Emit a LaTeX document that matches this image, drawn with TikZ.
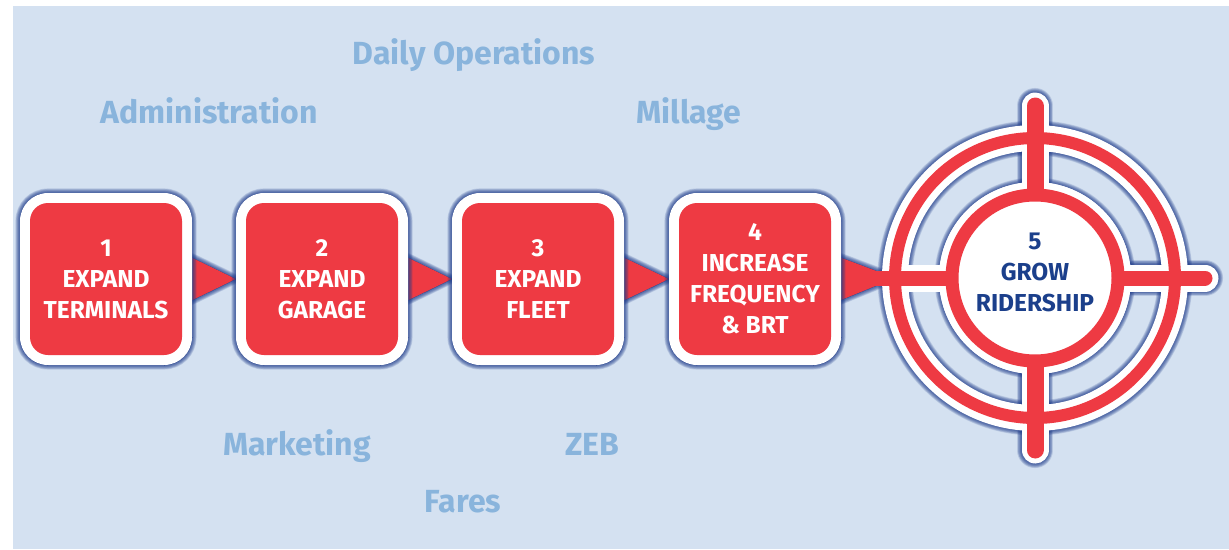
\documentclass[tikz,border=0pt]{standalone}
\usepackage{fontspec}
\setmainfont{Fira Sans}
\usetikzlibrary{calc}

\definecolor{bgblue}{HTML}{D4E1F1}
\definecolor{tagblue}{HTML}{89B4DC}
\definecolor{stepred}{HTML}{EE3A43}
\definecolor{navy}{HTML}{1B3F8B}
\definecolor{shade}{HTML}{1D3A8A}

\pgfdeclarelayer{bgfill}
\pgfdeclarelayer{trishadow}
\pgfdeclarelayer{tri}
\pgfdeclarelayer{objshadow}
\pgfsetlayers{bgfill,trishadow,tri,objshadow,main}

% soft drop shadow: the same shapes stacked, each copy wider and pushed
% further to the lower right, so the upper left edge stays hidden
\newcommand\softshadow[1]{%
  \foreach \k in {0,...,7}{%
    \pgfmathsetlengthmacro\ew{1.3pt*\k}%
    \begin{scope}[shift={({4pt+0.5*\ew},{-5pt-0.5*\ew})}, opacity=0.16]
      #1
    \end{scope}
  }%
}

\tikzset{
  tag/.style={text=tagblue, font=\fontsize{32}{32}\selectfont\bfseries, anchor=base, inner sep=0pt},
  boxframe/.style={fill=white, rounded corners=28pt,
    minimum width=172pt, minimum height=172pt, inner sep=0pt},
  boxcore/.style={fill=stepred, rounded corners=18pt, minimum width=152pt, minimum height=152pt,
    inner sep=0pt, text=white, align=center, font=\fontsize{24.5}{31}\selectfont\bfseries},
  pointer/.style={fill=stepred},
  shadefill/.style={fill=shade, line join=round},
  goalwhite/.style={draw=white},
  goalred/.style={draw=stepred},
}

\begin{document}
\begin{tikzpicture}[x=1pt, y=-1pt]
\useasboundingbox (0,0) rectangle (1229,549);
\begin{pgfonlayer}{bgfill}
  \fill[white] (0,0) rectangle (1229,549);
  \fill[bgblue] (13,6) rectangle (1229,549);
\end{pgfonlayer}

% step boxes
\foreach \i/\x/\txt in {1/106/{1\\EXPAND\\TERMINALS}, 2/322/{2\\EXPAND\\GARAGE},
                        3/538/{3\\EXPAND\\FLEET}, 4/755/{4\\INCREASE\\FREQUENCY\\\& BRT}}{
  \node[boxframe] (b\i) at (\x,279) {};
  \node[boxcore] (r\i) at (b\i.center) {\txt};
}

% target: white backing, then red rings and cross
\node[circle, fill=white, minimum size=192pt, inner sep=0pt] (goal) at (1035,278) {};
\coordinate (tip) at ($(goal.center)+(-140,0)$);
\draw[goalwhite, line width=26pt] (goal.center) circle (140);
\draw[goalwhite, line width=27pt, line cap=round]
  ($(goal.center)+(0,-172)$) -- ($(goal.center)+(0,172)$);
\draw[goalwhite, line width=27pt, line cap=round]
  ($(goal.center)+(-135,0)$) -- ($(goal.center)+(170,0)$);
\fill[white] (goal.center) circle (96);
\draw[goalred, line width=12pt] (goal.center) circle (140);
\draw[goalred, line width=17pt, line cap=round]
  ($(goal.center)+(0,-172)$) -- ($(goal.center)+(0,172)$);
\draw[goalred, line width=15pt, line cap=round]
  ($(goal.center)+(-165,0)$) -- ($(goal.center)+(170,0)$);
\fill[white] (goal.center) circle (78);
\draw[goalred, line width=13pt] (goal.center) circle (83);
\node[text=navy, align=center, font=\fontsize{24.5}{31}\selectfont\bfseries, inner sep=0pt]
  (goaltext) at ($(goal.center)+(0,-6)$) {5\\GROW\\RIDERSHIP};

% pointers between the steps
\begin{pgfonlayer}{tri}
  \foreach \a/\b in {b1/b2, b2/b3, b3/b4}{
    \fill[pointer] ([xshift=-10pt,yshift=26pt]\a.east) -- (\b.west)
      -- ([xshift=-10pt,yshift=-26pt]\a.east) -- cycle;
  }
  \fill[pointer] ([xshift=-10pt,yshift=25pt]b4.east) -- (tip)
    -- ([xshift=-10pt,yshift=-25pt]b4.east) -- cycle;
\end{pgfonlayer}

\begin{pgfonlayer}{trishadow}
  \softshadow{%
    \foreach \a/\b in {b1/b2, b2/b3, b3/b4}{
      \filldraw[shadefill, draw=shade, line width=\ew] ([xshift=-10pt,yshift=26pt]\a.east) -- (\b.west)
        -- ([xshift=-10pt,yshift=-26pt]\a.east) -- cycle;
    }
    \filldraw[shadefill, draw=shade, line width=\ew] ([xshift=-10pt,yshift=25pt]b4.east) -- (tip)
      -- ([xshift=-10pt,yshift=-25pt]b4.east) -- cycle;
  }
\end{pgfonlayer}

\begin{pgfonlayer}{objshadow}
  \softshadow{%
    \foreach \i in {1,2,3,4}{
      \filldraw[shadefill, draw=shade, line width=\ew, rounded corners=28pt]
        ([shift={(-86,-86)}]b\i.center) rectangle ([shift={(86,86)}]b\i.center);
    }
    \draw[draw=shade, line width={26pt+\ew}] (goal.center) circle (140);
    \fill[shadefill] (goal.center) circle ({96+0.5*\ew/1pt});
    \draw[draw=shade, line width={27pt+\ew}, line cap=round]
      ($(goal.center)+(0,-172)$) -- ($(goal.center)+(0,-100)$);
    \draw[draw=shade, line width={27pt+\ew}, line cap=round]
      ($(goal.center)+(0,100)$) -- ($(goal.center)+(0,172)$);
    \draw[draw=shade, line width={27pt+\ew}, line cap=round]
      ($(goal.center)+(100,0)$) -- ($(goal.center)+(170,0)$);
  }
\end{pgfonlayer}

% surrounding topics
\node[tag] (ops) at (474,64) {Daily Operations};
\node[tag] (admin) at (209,123) {Administration};
\node[tag] (mill) at (689,123) {Millage};
\node[tag] (mkt) at (297,455) {Marketing};
\node[tag] (zeb) at (592,455) {ZEB};
\node[tag] (fares) at (463,512) {Fares};
\end{tikzpicture}
\end{document}
